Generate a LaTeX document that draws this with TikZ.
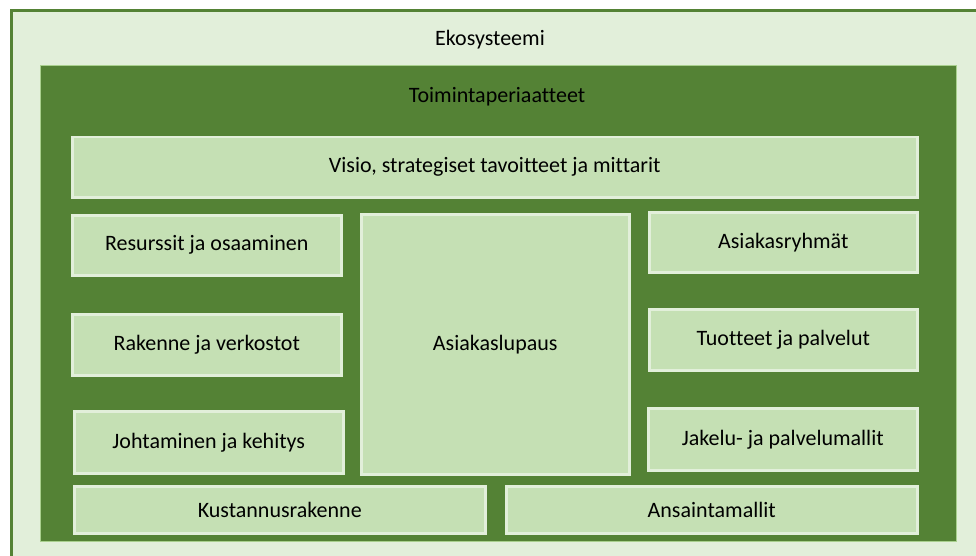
\documentclass[tikz,border=0pt]{standalone}
\usepackage{fontspec}
\setmainfont[Ligatures=NoCommon]{Carlito}
\usepackage{tikz}
\usetikzlibrary{positioning}
\usepackage{xcolor}
\definecolor{cdark}{HTML}{548235}
\definecolor{cpale}{HTML}{E2EFDA}
\definecolor{clight}{HTML}{C5E0B4}
\definecolor{cedge}{HTML}{A9D08E}

\begin{document}
\begin{tikzpicture}[
	x=1pt, y=-1pt,
	% Estilo para las cajas claras
	blockbox/.style={
		draw=cpale,
		fill=clight,
		line width=2.5pt,
		rectangle,
		anchor=north west,
		inner sep=0pt,
		align=center,
		font=\fontsize{22}{26}\selectfont
	},
	% Estilo para los titulos
	titletext/.style={
		font=\fontsize{22}{26}\selectfont,
		text=black
	}
	]
	\useasboundingbox (0,0) rectangle (976,556);
	\clip (0,0) rectangle (976,556);
	
	% --- Ecosistema ---
	\node[draw=cdark, fill=cpale, line width=3pt, rectangle, anchor=north west,
		minimum width=990pt, minimum height=570pt] (eco) at (9.5,9.5) {};
	\node[titletext] (ecotitle) at (490,40) {Ekosysteemi};
	
	% --- Principios ---
	\node[draw=cedge, fill=cdark, line width=1pt, rectangle, anchor=north west,
		minimum width=916pt, minimum height=476pt] (toim) at (40,65) {};
	\node[titletext] (toimtitle) at (497,97) {Toimintaperiaatteet};
	
	% Fila superior
	\node[blockbox, minimum width=845pt, minimum height=60pt] (visio) at (71,136)
		{Visio, strategiset tavoitteet ja mittarit};
	
	% Columna izquierda
	\node[blockbox, minimum width=269pt, minimum height=60pt] (resurssit) at (71,214)
		{Resurssit ja osaaminen};
	\node[blockbox, minimum width=269pt, minimum height=61pt] (rakenne) at (71,313)
		{Rakenne ja verkostot};
	\node[blockbox, minimum width=269pt, minimum height=62pt] (johtaminen) at (73,410)
		{Johtaminen ja kehitys};
	
	% Centro
	\node[blockbox, minimum width=268pt, minimum height=260pt] (lupaus) at (360,213)
		{Asiakaslupaus};
	
	% Columna derecha
	\node[blockbox, minimum width=268pt, minimum height=60pt] (ryhmat) at (648,211)
		{Asiakasryhmät};
	\node[blockbox, minimum width=268pt, minimum height=61pt] (tuotteet) at (648,308)
		{Tuotteet ja palvelut};
	\node[blockbox, minimum width=269pt, minimum height=62pt] (jakelu) at (647,407)
		{Jakelu- ja palvelumallit};
	
	% Fila inferior
	\node[blockbox, minimum width=411pt, minimum height=47pt] (kustannus) at (73,485)
		{Kustannusrakenne};
	\node[blockbox, minimum width=411pt, minimum height=47pt] (ansainta) at (505,485)
		{Ansaintamallit};
	
\end{tikzpicture}
\end{document}
